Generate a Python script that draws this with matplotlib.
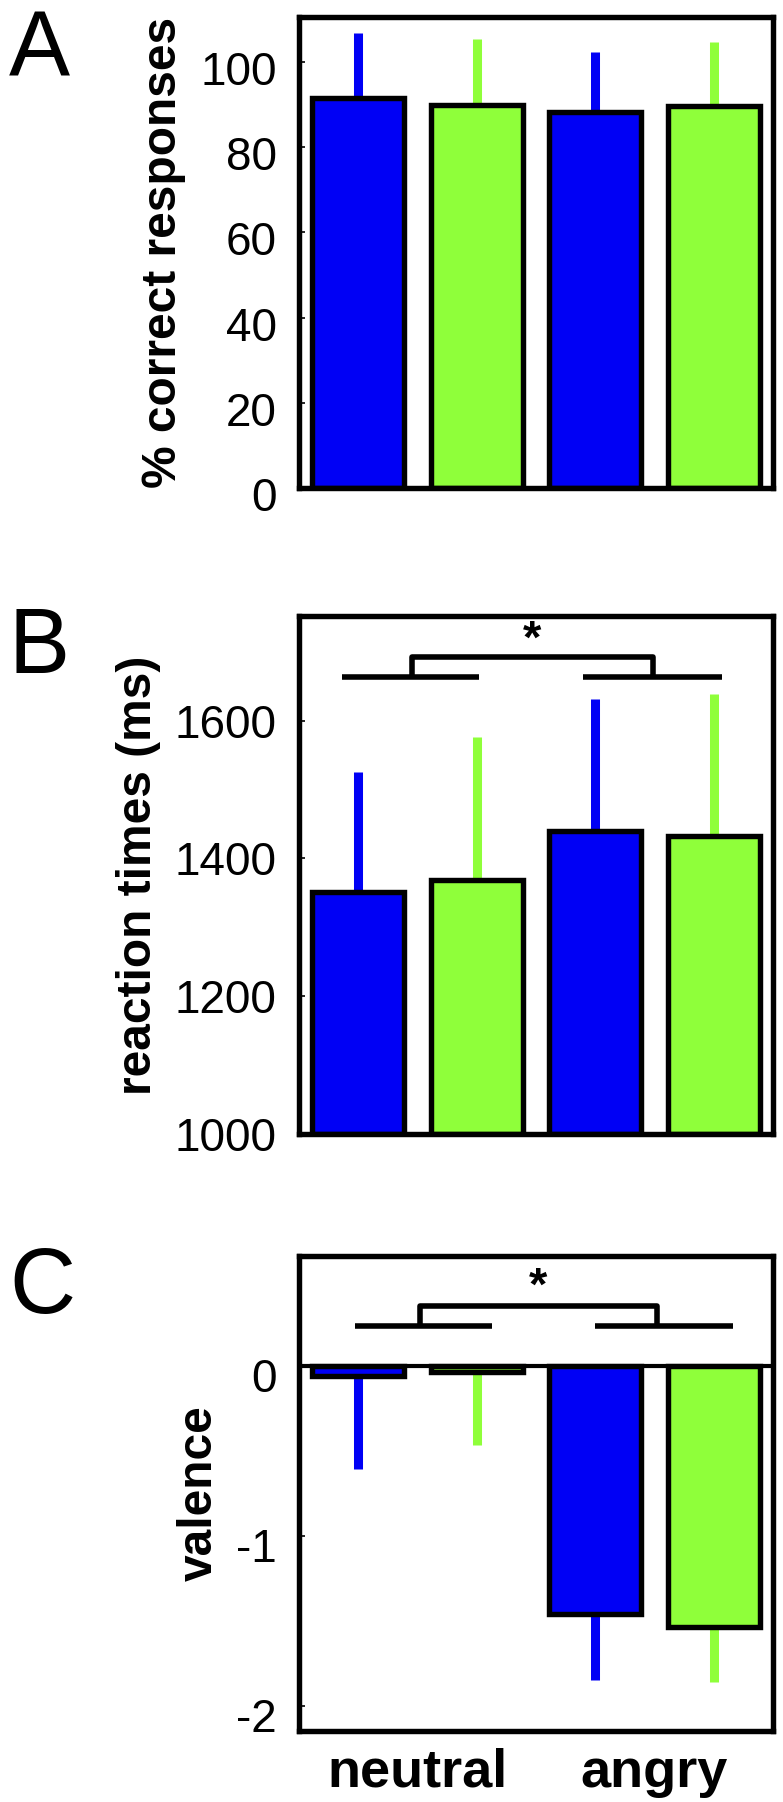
import matplotlib
matplotlib.use('Agg')
import matplotlib.pyplot as plt
from matplotlib.transforms import ScaledTranslation
from matplotlib import font_manager

plt.rcParams['font.family'] = ['Liberation Sans', 'DejaVu Sans']

names = {f.name for f in font_manager.fontManager.ttflist}
NARROW = 'Liberation Sans Narrow' if 'Liberation Sans Narrow' in names else 'Liberation Sans'

# ---------------- data ----------------
positions = [1, 2, 3, 4]
bar_colors = ['#0000F5', '#8FFF3A', '#0000F5', '#8FFF3A']
group_labels = ['neutral', 'angry']
group_label_pos = [1.5, 3.5]

acc_mean = [91.4, 89.9, 88.3, 89.6]
acc_err = [15.3, 15.4, 13.9, 15.1]
acc_ticks = [0, 20, 40, 60, 80, 100]

rt_mean = [1352, 1369, 1440, 1432]
rt_err = [173, 208, 191, 207]
rt_ticks = [1000, 1200, 1400, 1600]

val_mean = [-0.06, -0.04, -1.46, -1.54]
val_err = [0.55, 0.43, 0.39, 0.32]
val_ticks = [-2, -1, 0]

# significance brackets (data coords)
rt_bracket_y = [1664, 1692, 1716]      # low line, high line, star
rt_bracket_x = [0.86, 2.02, 2.90, 4.07, 1.45, 3.49]
val_bracket_y = [0.235, 0.35, 0.46]
val_bracket_x = [0.97, 2.13, 3.00, 4.16, 1.52, 3.52]

# ---------------- figure ----------------
W, H = 783, 1802
fig = plt.figure(figsize=(W / 100, H / 100), dpi=100)

left = 299 / W
right = 773 / W
boxes = [(17, 488), (616, 1134), (1256, 1731)]
axes = []
for top, bot in boxes:
    ax = fig.add_axes([left, 1 - bot / H, right - left, (bot - top) / H])
    axes.append(ax)

EDGE = 3.9
SPINE = 3.9
TICKFS = 33
LABFS = 34.5


def draw_bars(ax, means, errs, base, down=False):
    for x, m, e, c in zip(positions, means, errs, bar_colors):
        yerr = [[e], [0]] if down else [[0], [e]]
        ax.errorbar([x], [m], yerr=yerr, fmt='none', ecolor=c,
                    elinewidth=6.5, capsize=0, zorder=1)
    ax.bar(positions, [m - base for m in means], bottom=base, width=0.78,
           color=bar_colors, edgecolor='black', linewidth=EDGE, zorder=2)


def style(ax, ticks, ylim, label, yoff_px):
    ax.set_xlim(0.5, 4.5)
    ax.set_ylim(*ylim)
    ax.set_yticks(ticks)
    ax.set_yticklabels([str(t) for t in ticks], fontsize=TICKFS)
    ax.tick_params(axis='y', direction='in', length=4, width=1.2, pad=16)
    for s in ax.spines.values():
        s.set_linewidth(SPINE)
        s.set_zorder(5)
    ax.set_ylabel(label, fontsize=LABFS, fontweight='bold', labelpad=10)
    off = ScaledTranslation(0, -yoff_px / 100, fig.dpi_scale_trans)
    for lab in ax.get_yticklabels():
        lab.set_transform(lab.get_transform() + off)


def bracket(ax, ys, xs):
    lo, hi, st = ys
    kw = dict(color='black', linewidth=4.0, solid_capstyle='butt', zorder=3)
    ax.plot([xs[0], xs[1]], [lo, lo], **kw)
    ax.plot([xs[2], xs[3]], [lo, lo], **kw)
    ax.plot([xs[4], xs[4], xs[5], xs[5]], [lo, hi, hi, lo], **kw)
    ax.text((xs[4] + xs[5]) / 2, st, '*', ha='center', va='center',
            fontsize=34, fontweight='bold', zorder=3)


# Panel A
axA = axes[0]
draw_bars(axA, acc_mean, acc_err, 0)
style(axA, acc_ticks, (0, 110.5), '% correct responses', 6)
axA.set_xticks([])

# Panel B
axB = axes[1]
draw_bars(axB, rt_mean, rt_err, 1000)
style(axB, rt_ticks, (1000, 1752), 'reaction times (ms)', 0)
axB.set_xticks([])
bracket(axB, rt_bracket_y, rt_bracket_x)

# Panel C
axC = axes[2]
axC.axhline(0, color='black', linewidth=3.0, zorder=3)
draw_bars(axC, val_mean, val_err, 0, down=True)
style(axC, val_ticks, (-2.15, 0.645), 'valence', 9)
axC.set_xticks(group_label_pos)
axC.set_xticklabels(group_labels, fontsize=39, fontweight='bold')
axC.tick_params(axis='x', length=0, pad=12)
bracket(axC, val_bracket_y, val_bracket_x)

# panel letters
for letter, top in zip(['A', 'B', 'C'], [10, 606, 1246]):
    fig.text(9 / W, 1 - top / H, letter, fontsize=66, ha='left', va='top',
             family=[NARROW, 'DejaVu Sans'])

fig.savefig('out.png', dpi=100)
